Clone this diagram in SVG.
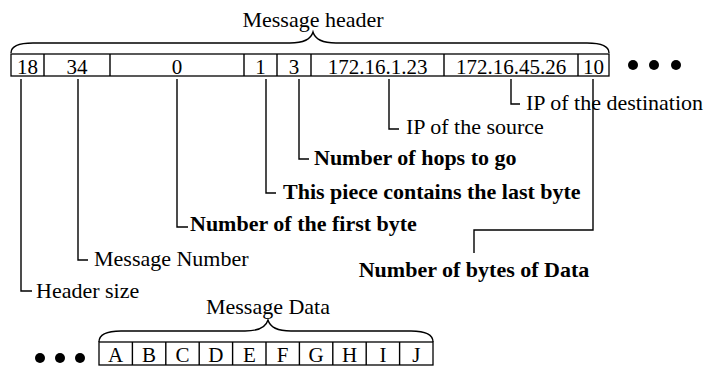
<svg xmlns="http://www.w3.org/2000/svg" width="719" height="367" viewBox="0 0 719 367">
<style>
text{font-family:"Liberation Serif","Times New Roman",serif;fill:#000}
.t{font-size:22px}
.c{font-size:21px;text-anchor:middle}
.b{font-size:22px;font-weight:bold}
.box{fill:#fff;stroke:#000;stroke-width:1.3}
.ln{fill:none;stroke:#000;stroke-width:1.4}
.dot{fill:#000}
</style>
<rect width="719" height="367" fill="#fff"/>
<g id="header">
<path class="ln" d="M11,53 C11,46 18,43 33,43 L290,43 C304,43 311,39 313,32 C315,39 322,43 336,43 L587,43 C602,43 609,46 609,53"/>
<text class="t" x="313" y="27" text-anchor="middle">Message header</text>
<rect class="box" x="11" y="54" width="598" height="22"/>
<path class="ln" d="M44,54V76M110,54V76M244,54V76M277,54V76M311,54V76M444,54V76M578,54V76"/>
<text class="c" x="27.5" y="74">18</text>
<text class="c" x="77" y="74">34</text>
<text class="c" x="177" y="74">0</text>
<text class="c" x="260.5" y="74">1</text>
<text class="c" x="294" y="74">3</text>
<text class="c" x="377.5" y="74">172.16.1.23</text>
<text class="c" x="511" y="74">172.16.45.26</text>
<text class="c" x="593.5" y="74">10</text>
<circle class="dot" cx="633" cy="65" r="5"/>
<circle class="dot" cx="654" cy="65" r="5"/>
<circle class="dot" cx="676" cy="65" r="5"/>
</g>
<g id="connectors">
<path class="ln" d="M21,79V291H32"/>
<path class="ln" d="M78,79V260H88"/>
<path class="ln" d="M177,79V227H188"/>
<path class="ln" d="M266,79V193H276"/>
<path class="ln" d="M299,79V159H309"/>
<path class="ln" d="M389,79V129H399"/>
<path class="ln" d="M511,79V104H520"/>
<path class="ln" d="M593,79V230H474V253"/>
</g>
<g id="labels">
<text class="t" x="36" y="298">Header size</text>
<text class="t" x="94" y="266">Message Number</text>
<text class="b" x="190" y="231">Number of the first byte</text>
<text class="b" x="283" y="199">This piece contains the last byte</text>
<text class="b" x="314" y="165">Number of hops to go</text>
<text class="t" x="406" y="134">IP of the source</text>
<text class="t" x="526" y="110">IP of the destination</text>
<text class="b" x="474" y="277" text-anchor="middle">Number of bytes of Data</text>
</g>
<g id="data">
<path class="ln" d="M99,342 C99,335 106,331 121,331 L245,331 C259,331 266,327 268,320 C270,327 277,331 291,331 L411,331 C426,331 433,335 433,342"/>
<text class="t" x="268" y="314" text-anchor="middle">Message Data</text>
<rect class="box" x="99" y="342" width="334" height="23"/>
<path class="ln" d="M132.4,342V365M165.8,342V365M199.2,342V365M232.6,342V365M266,342V365M299.4,342V365M332.8,342V365M366.2,342V365M399.6,342V365"/>
<text class="c" x="115.7" y="362">A</text>
<text class="c" x="149.1" y="362">B</text>
<text class="c" x="182.5" y="362">C</text>
<text class="c" x="215.9" y="362">D</text>
<text class="c" x="249.3" y="362">E</text>
<text class="c" x="282.7" y="362">F</text>
<text class="c" x="316.1" y="362">G</text>
<text class="c" x="349.5" y="362">H</text>
<text class="c" x="382.9" y="362">I</text>
<text class="c" x="416.3" y="362">J</text>
<circle class="dot" cx="40" cy="358" r="5"/>
<circle class="dot" cx="60" cy="358" r="5"/>
<circle class="dot" cx="80" cy="358" r="5"/>
</g>
</svg>
